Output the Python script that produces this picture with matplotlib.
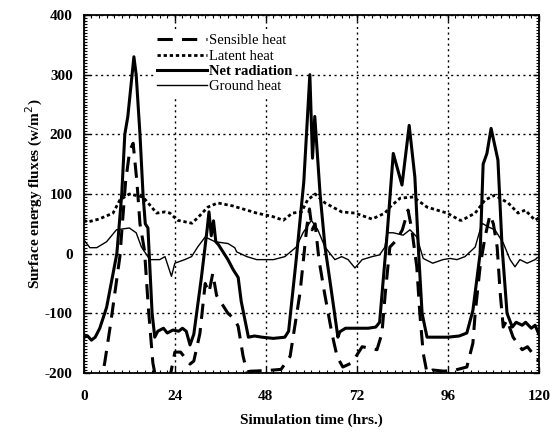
import numpy as np
import matplotlib
matplotlib.use("Agg")
import matplotlib.pyplot as plt
from matplotlib.ticker import MultipleLocator

plt.rcParams["font.family"] = ["Liberation Serif", "DejaVu Serif"]
plt.rcParams["axes.unicode_minus"] = False

# sensible heat (values below -200 run off the axis)
sens_t = [0, 4, 5.5, 7, 9.5, 11, 12.1, 13, 14, 14.8, 16, 17, 18.2, 19, 22, 24,
          25.5, 28, 29, 30.6, 32, 33, 34, 35, 36, 38, 39.8, 40.7, 42, 43, 44,
          48, 52, 54.4, 57, 58.8, 59.5, 60.2, 61, 62, 63.5, 65.4, 66.8, 68.3,
          70.7, 73.4, 75, 77.3, 78.6, 79.5, 80.7, 82.5, 84, 85.5, 86.5, 87.8,
          88.6, 89.5, 90.5, 92, 95, 98, 101, 102.6, 103.2, 104.5, 105.8,
          107.1, 108, 109, 109.8, 110.6, 111.6, 113.2, 115.6, 117, 119, 120]
sens_v = [-260, -230, -183, -120, -5, 120, 173, 185, 120, 50, 5, -90, -183,
          -210, -230, -165, -165, -185, -180, -134, -50, -65, -33, -70, -80,
          -100, -110, -122, -172, -198, -197, -196, -194, -172, -66, 45, 75,
          40, 50, -10, -67, -133, -173, -190, -183, -156, -158, -161, -134,
          -66, 11, 23, 40, 73, 40, -22, -100, -167, -200, -195, -197, -195,
          -190, -150, -100, -22, 28, 65, 50, 11, -66, -123, -111, -140, -161,
          -156, -173, -180]

# latent heat
lat_t = [0, 1, 4, 7.7, 9.5, 12, 15.6, 19.2, 21.4, 22.7, 24.7, 28.5, 30, 32.7,
         35.3, 39.3, 40.3, 45.6, 49.9, 52.6, 55, 57.4, 59, 61, 63.6, 68, 71.5,
         76, 79.4, 80.7, 83.4, 86.9, 90.5, 95.8, 99.2, 99.7, 103.2, 105.8,
         108.4, 111.9, 114.5, 116.4, 119, 120]
lat_v = [56, 53, 58, 68, 90, 100, 95, 68, 70, 68, 56, 51, 60, 78, 85, 80, 78,
         68, 62, 56, 68, 70, 90, 100, 85, 70, 68, 58, 68, 78, 93, 95, 78, 68,
         56, 56, 68, 90, 98, 85, 68, 73, 56, 60]

# net radiation
net_t = [0, 1, 2, 3, 4.2, 6, 8.7, 10, 10.8, 11.6, 13.2, 13.8, 14.8, 15.6, 16.2,
         16.9, 18, 18.7, 19.5, 21, 22, 23.5, 25, 26, 27, 28, 29, 31, 32.5, 33,
         33.6, 34.2, 34.8, 35.5, 37, 38, 39.4, 40.7, 41.5, 43.4, 45, 47, 50,
         53, 54, 56, 58, 59.6, 60.3, 60.9, 62.3, 63.6, 65, 67, 67.5, 69, 72,
         75, 77, 78, 80, 81.6, 83.9, 85.8, 87.3, 88.3, 89.2, 90.5, 93, 96, 99,
         101, 102.6, 104.5, 105.3, 106.3, 107.4, 109.2, 110.3, 111.6, 113,
         114, 115.6, 116.5, 118, 119, 120]
net_v = [-140, -138, -145, -140, -125, -90, 0, 100, 200, 230, 330, 300, 200,
         100, 50, 43, -100, -140, -130, -125, -133, -128, -130, -125, -130,
         -153, -135, -40, 40, 70, 30, 55, 20, 15, 0, -10, -27, -40, -80, -140,
         -138, -140, -142, -140, -130, -10, 120, 300, 160, 230, 100, 11, -50,
         -140, -131, -125, -125, -125, -123, -115, 34, 168, 115, 215, 128, 0,
         -100, -140, -140, -140, -138, -133, -95, 0, 150, 168, 210, 157, 11,
         -100, -123, -115, -120, -115, -125, -120, -135]

# ground heat
gnd_t = [0, 1.6, 3.4, 6, 8.6, 12, 13.8, 15.2, 17.4, 20, 21.4, 23.1, 24, 26.6,
         28.4, 30, 32, 34.6, 38, 39.8, 40.3, 43, 45.6, 50, 53, 56, 57.8, 60,
         61.7, 63.6, 66.2, 68, 69.7, 71.5, 73.4, 76, 78, 79.4, 80, 81.6, 84.2,
         86, 87.8, 89.5, 92, 94.7, 96.6, 98.4, 100.5, 103.2, 105, 106.6, 108.4,
         110.6, 112.4, 113.7, 115, 116.9, 119, 120]
gnd_v = [23, 10, 10, 20, 40, 43, 35, 11, -10, -10, -5, -38, -16, -10, -5, 11,
         28, 20, 17, 10, 3, -5, -10, -10, -5, 11, 35, 56, 40, 11, -10, -5, -10,
         -24, -10, -5, -2, 11, 35, 35, 31, 40, 28, -8, -16, -10, -8, -10, -5,
         11, 51, 45, 40, 18, -10, -22, -10, -16, -10, -5]

fig = plt.figure(figsize=(5.59, 4.34), dpi=100)
ax = fig.add_axes([0.150, 0.1406, 0.814, 0.8248])

ax.plot(sens_t, sens_v, color="black", linewidth=2.2, dashes=(5, 3),
        label="Sensible heat")
ax.plot(lat_t, lat_v, color="black", linewidth=2.0, dashes=(1.2, 1.0),
        label="Latent heat")
ax.plot(net_t, net_v, color="black", linewidth=2.2, label="Net radiation")
ax.plot(gnd_t, gnd_v, color="black", linewidth=1.0, label="Ground heat")

ax.set_xlim(0, 120)
ax.set_ylim(-200, 400)
ax.xaxis.set_major_locator(MultipleLocator(24))
ax.xaxis.set_minor_locator(MultipleLocator(2))
ax.yaxis.set_major_locator(MultipleLocator(100))
ax.yaxis.set_minor_locator(MultipleLocator(5))
ax.tick_params(which="both", direction="in", top=True, right=True,
               color="black")
ax.tick_params(which="major", length=4, width=1, labelsize=11)
ax.tick_params(axis="x", which="major", pad=12)
ax.tick_params(axis="y", which="major", pad=8)
ax.tick_params(which="minor", length=2.5, width=0.8)
for lab in ax.get_xticklabels() + ax.get_yticklabels():
    lab.set_fontweight("bold")
ax.grid(True, which="major", color="black", linestyle=(0, (1.5, 2.5)),
        linewidth=1.0)
for sp in ax.spines.values():
    sp.set_linewidth(1.3)

ax.set_xlabel("Simulation time (hrs.)", fontsize=11, fontweight="bold",
              labelpad=8)
ax.set_ylabel("Surface energy fluxes (w/m$^2$)", fontsize=11,
              fontweight="bold", labelpad=0)

leg = ax.legend(loc="upper left", bbox_to_anchor=(0.155, 0.955), frameon=True,
                fontsize=10.5, handlelength=3.4, handletextpad=0.15,
                labelspacing=0.15, borderpad=0.2, borderaxespad=0)
leg.get_frame().set_edgecolor("none")
leg.get_frame().set_facecolor("white")
leg.get_frame().set_alpha(1.0)
leg.get_texts()[2].set_fontweight("bold")

fig.savefig("out.png", dpi=100)
